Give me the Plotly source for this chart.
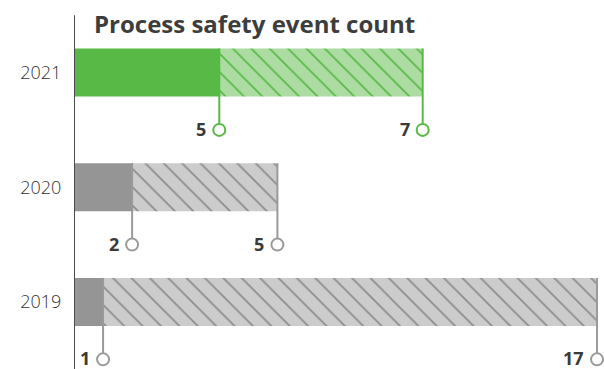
import plotly.graph_objects as go

# Process safety events per year: solid segment + hatched segment
years = ["2019", "2020", "2021"]
tier1 = [1, 2, 5]
tier2 = [17, 5, 7]

solid_colors = ["#959595", "#959595", "#58b947"]
hatch_bg = ["#cccccc", "#cccccc", "#acdca1"]
hatch_fg = ["#8c8c8c", "#8c8c8c", "#58b947"]
leader_colors = ["#9a9a9a", "#9a9a9a", "#58b947"]

ypos = list(range(len(years)))
bar_w = 0.42

fig = go.Figure()

for i in ypos:
    fig.add_trace(go.Bar(
        y=[i], x=[tier1[i]], orientation="h", width=bar_w,
        marker=dict(color=solid_colors[i], line=dict(width=0)),
        hoverinfo="skip",
    ))
for i in ypos:
    fig.add_trace(go.Bar(
        y=[i], x=[tier2[i]], base=[tier1[i]], orientation="h", width=bar_w,
        marker=dict(
            color=hatch_bg[i], line=dict(width=0),
            pattern=dict(shape="\\", fgcolor=hatch_fg[i], fgopacity=1,
                         size=13, solidity=0.13, fillmode="overlay"),
        ),
        hoverinfo="skip",
    ))

# Leader lines and value callouts under each bar segment end
for i, (a, b) in enumerate(zip(tier1, tier2)):
    ends = [a, a + b]
    vals = [a, b]
    for xe, v in zip(ends, vals):
        fig.add_trace(go.Scatter(
            x=[xe, xe], y=[i + bar_w / 2, i - 0.5], mode="lines",
            line=dict(color=leader_colors[i], width=2),
            hoverinfo="skip",
        ))
        fig.add_trace(go.Scatter(
            x=[xe], y=[i - 0.5], mode="markers",
            marker=dict(symbol="circle", size=12, color="white",
                        line=dict(color=leader_colors[i], width=2)),
            cliponaxis=False,
            hoverinfo="skip",
        ))
        fig.add_annotation(
            x=xe, y=i - 0.5, xref="x", yref="y",
            text=f"<b>{v}</b>", showarrow=False,
            xanchor="right", yanchor="middle", xshift=-11, yshift=1,
            font=dict(family="Open Sans", size=18, color="#3a3a3a"),
        )

fig.add_shape(type="line", xref="x", yref="y", x0=0, x1=0,
              y0=-0.6, y1=2.5, line=dict(color="#4a4a4a", width=2))

fig.update_layout(
    width=604, height=369,
    margin=dict(l=74, r=0, t=0, b=0),
    barmode="overlay",
    showlegend=False,
    plot_bgcolor="white", paper_bgcolor="white",
    title=dict(
        text="<b>Process safety event count</b>",
        x=94 / 604, xanchor="left", xref="container",
        y=1 - 25 / 369, yanchor="middle", yref="container",
        font=dict(family="Open Sans", size=24, color="#3d3d3d"),
    ),
    xaxis=dict(visible=False, range=[0, 18.24], fixedrange=True),
    yaxis=dict(
        range=[-0.584, 2.632], tickvals=ypos, ticktext=years,
        showgrid=False, zeroline=False, showline=False,
        ticks="outside", ticklen=8, tickcolor="rgba(0,0,0,0)",
        tickfont=dict(family="Open Sans", size=18, color="#333333",
                      weight=300),
    ),
)

fig.write_html("out.html")
